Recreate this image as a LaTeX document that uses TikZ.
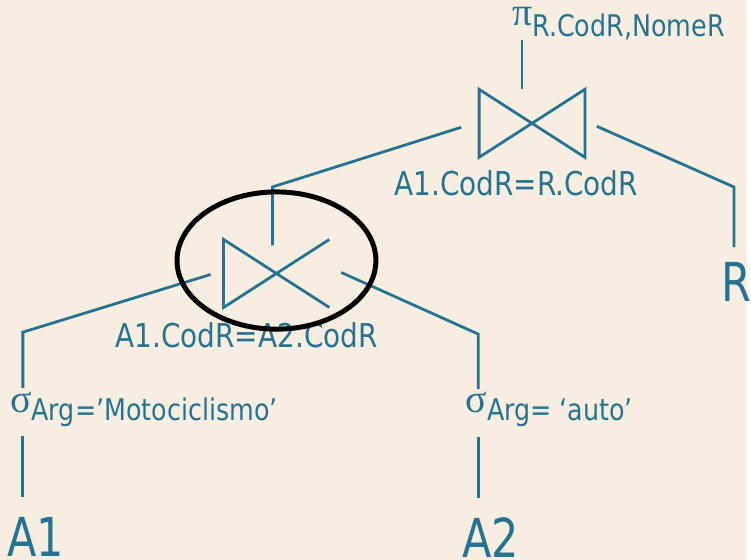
\documentclass[tikz,border=0pt]{standalone}
\usepackage{fontspec}
\setmainfont{DejaVu Sans}[FakeStretch=0.85]
\newfontfamily\bigfont{DejaVu Sans}[FakeStretch=0.8]
\newfontfamily\greekfont{Liberation Serif}
\definecolor{paper}{RGB}{247,237,224}
\definecolor{tealink}{RGB}{38,115,145}
\newcommand{\subtxt}{\fontsize{30}{34}\selectfont}
\newcommand{\grk}[1]{{\greekfont\fontsize{40}{44}\selectfont #1}}
\tikzset{
  edge/.style={draw=tealink, line width=2.8pt},
  cond/.style={text=tealink, inner sep=0pt, font=\fontsize{33}{40}\selectfont},
  rel/.style={text=tealink, inner sep=0pt, font=\bigfont\fontsize{54}{60}\selectfont},
  joinbox/.style={minimum width=106pt, minimum height=68pt, inner sep=0pt},
  ring/.style={draw=black, line width=5pt}
}
\begin{document}
\begin{tikzpicture}[x=1pt, y=-1pt]
        % Background and picture size
        \fill[paper] (0, 0) rectangle (751, 563);

        % Projection at the top
        \node[cond, anchor=base west] (proj) at (515, 26) {\grk{π}\raisebox{-11pt}{\subtxt R.CodR,NomeR}};

        % The two joins
        \node[joinbox] (uj) at (535, 124) {};
        \node[cond, anchor=base] (ujc) at (519, 197) {A1.CodR=R.CodR};
        \node[joinbox] (lj) at (278, 275) {};
        \node[cond, anchor=base] (ljc) at (248, 349) {A1.CodR=A2.CodR};

        % Selections and relations
        \node[cond, anchor=base west] (sel1) at (10, 415) {\grk{σ}\raisebox{-8pt}{\subtxt Arg=’Motociclismo’}};
        \node[cond, anchor=base west] (sel2) at (468, 415) {\grk{σ}\raisebox{-8pt}{\subtxt Arg= ‘auto’}};
        \node[rel, anchor=base west] (a1) at (7, 560) {A1};
        \node[rel, anchor=base west] (a2) at (465, 561) {A2};
        \node[rel, anchor=base west] (r) at (725, 303) {R};

        % Bow ties
        \draw[edge] (uj.north west) -- (uj.south west) -- (uj.north east) -- (uj.south east) -- cycle;
        \draw[edge] (lj.north east) -- (lj.south west) -- (lj.north west) -- (lj.south east);

        % Corners of the tree edges
        \coordinate (k1) at (274, 188);
        \coordinate (k2) at (738, 188);
        \coordinate (k3) at (23, 334);
        \coordinate (k4) at (481, 336);

        % Tree edges
        \draw[edge] ([xshift=-10pt]uj.north) -- ([xshift=-10pt]uj.north |- proj.south);
        \draw[edge] ([xshift=-18pt, yshift=-4pt]uj.west) -- (k1) -- ([yshift=-6pt]lj.north -| k1);
        \draw[edge] ([xshift=12pt, yshift=-3pt]uj.east) -- (k2) -- ([yshift=15pt]r.north -| k2);
        \draw[edge] ([xshift=-13pt, yshift=-1pt]lj.west) -- (k3) -- ([yshift=4pt]sel1.north -| k3);
        \draw[edge] ([xshift=12pt, yshift=1pt]lj.east) -- (k4) -- ([yshift=3pt]sel2.north -| k4);
        \draw[edge] ([yshift=-9pt]sel1.south -| k3) -- ([yshift=21pt]a1.north -| k3);
        \draw[edge] ([yshift=-10pt]sel2.south -| k4) -- ([yshift=20pt]a2.north -| k4);

        % Highlight of the lower join
        \draw[ring] (lj.center) ++(0, -13) ellipse [x radius=100, y radius=69];
\end{tikzpicture}
\end{document}
